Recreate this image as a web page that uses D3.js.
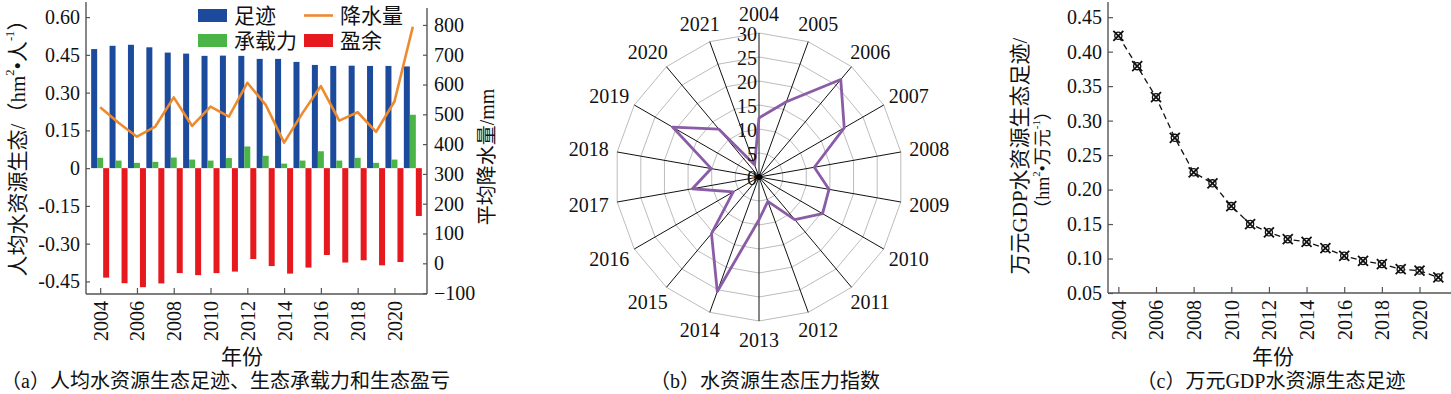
<!DOCTYPE html>
<html><head><meta charset="utf-8">
<script src="https://cdn.jsdelivr.net/npm/d3@7/dist/d3.min.js"></script>
<style>
html,body{margin:0;padding:0;background:#fff;}
svg{display:block;}
text{font-family:"Liberation Serif","Times New Roman","Noto Sans CJK SC",serif;fill:#111;}
</style></head>
<body>
<svg id="chart" width="1451" height="394"></svg>
<script>
// ---------- data ----------
const years = [2004,2005,2006,2007,2008,2009,2010,2011,2012,2013,2014,2015,2016,2017,2018,2019,2020,2021];
const footprint = [0.473,0.486,0.490,0.480,0.459,0.455,0.446,0.447,0.446,0.434,0.434,0.422,0.410,0.406,0.407,0.406,0.406,0.404];
const capacity  = [0.041,0.030,0.021,0.025,0.042,0.034,0.030,0.040,0.086,0.049,0.018,0.030,0.067,0.030,0.041,0.021,0.034,0.212];
const surplus   = [-0.435,-0.457,-0.473,-0.458,-0.417,-0.425,-0.417,-0.411,-0.361,-0.389,-0.419,-0.395,-0.345,-0.375,-0.366,-0.386,-0.373,-0.190];
const precipitation = [524,472,425,459,557,461,526,492,606,532,405,504,595,479,507,441,543,794];
const pressureIndex = [12.3,16.7,26.5,20.5,11.7,14.8,15.3,11.6,5.4,8.9,25.4,15.4,6.2,14.1,10.1,20.8,13.0,2.7];
const gdpFootprint = [0.423,0.379,0.334,0.275,0.225,0.209,0.176,0.150,0.138,0.128,0.124,0.115,0.104,0.0965,0.092,0.0845,0.0825,0.0725];

const leftTicks = [-0.45,-0.30,-0.15,0,0.15,0.30,0.45,0.60];
const leftTickLabels = ["-0.45","-0.30","-0.15","0","0.15","0.30","0.45","0.60"];
const rightTicks = [-100,0,100,200,300,400,500,600,700,800];
const yearTicks = [2004,2006,2008,2010,2012,2014,2016,2018,2020];
const radialTicks = [0,5,10,15,20,25,30];
const gdpTicks = [0.05,0.10,0.15,0.20,0.25,0.30,0.35,0.40,0.45];

const legendItems = [
  {label:"足迹", type:"rect", color:"#1c4a9c"},
  {label:"降水量", type:"line", color:"#ee8a2e"},
  {label:"承载力", type:"rect", color:"#4bb447"},
  {label:"盈余", type:"rect", color:"#e6191e"}
];

const C = {blue:"#1c4a9c", green:"#4bb447", red:"#e6191e", orange:"#ee8a2e", purple:"#8b5ca6", axis:"#555"};
const FS = 20;

const svg = d3.select("#chart");

function rich(sel, parts, size){
  let back = 0;
  parts.forEach(p=>{
    if (typeof p === "string") {
      const t = sel.append("tspan").text(p);
      if (back) { t.attr("dy", back); back = 0; }
    } else {
      sel.append("tspan").attr("dy", -size*0.38).attr("font-size", size*0.6).text(p.sup);
      back = size*0.38;
    }
  });
}

// ---------- Panel (a) ----------
{
  const L=86, R=427, T=2, B=294;
  const x = d3.scalePoint().domain(years).range([L,R]).padding(0.77);
  const yL = d3.scaleLinear().domain([-0.5,0.66]).range([B,T]);
  const yR = d3.scaleLinear().domain([-103,877]).range([B,T]);
  const g = svg.append("g");
  const bw = 6;

  g.selectAll(".fp").data(years).join("rect")
    .attr("x", d=>x(d)-9).attr("width", bw)
    .attr("y", (d,i)=>yL(footprint[i])).attr("height",(d,i)=>yL(0)-yL(footprint[i]))
    .attr("fill", C.blue);
  g.selectAll(".cap").data(years).join("rect")
    .attr("x", d=>x(d)-3).attr("width", bw)
    .attr("y", (d,i)=>yL(capacity[i])).attr("height",(d,i)=>yL(0)-yL(capacity[i]))
    .attr("fill", C.green);
  g.selectAll(".sur").data(years).join("rect")
    .attr("x", d=>x(d)+3).attr("width", bw)
    .attr("y", yL(0)).attr("height",(d,i)=>yL(surplus[i])-yL(0))
    .attr("fill", C.red);

  g.append("path").datum(years)
    .attr("d", d3.line().x(d=>x(d)).y((d,i)=>yR(precipitation[i])))
    .attr("fill","none").attr("stroke",C.orange).attr("stroke-width",2.6).attr("stroke-linejoin","round");

  // axes
  const axL = d3.axisLeft(yL).tickValues(leftTicks).tickSize(-4).tickPadding(6)
      .tickFormat((d,i)=>leftTickLabels[i]);
  const gL = g.append("g").attr("transform",`translate(${L},0)`).call(axL);
  const axR = d3.axisRight(yR).tickValues(rightTicks).tickSize(-4).tickPadding(7);
  const gR = g.append("g").attr("transform",`translate(${R},0)`).call(axR);
  const axB = d3.axisBottom(x).tickValues(yearTicks).tickSize(-6).tickFormat(d=>d);
  const gB = g.append("g").attr("transform",`translate(0,${B})`).call(axB);
  gB.selectAll("text").attr("transform","rotate(-90)").attr("text-anchor","end")
    .attr("dy","0.35em").attr("x",-7).attr("y",0);
  [gL,gR,gB].forEach(a=>{
    a.select(".domain").attr("stroke",C.axis).attr("stroke-width",1.4);
    a.selectAll(".tick line").attr("stroke",C.axis).attr("stroke-width",1.2);
    a.selectAll("text").attr("font-size",FS).attr("fill","#111").attr("font-family",null);
  });
  gL.select(".domain").attr("d",`M0,${T}V${B}`);
  gR.select(".domain").attr("d",`M0,${T+6}V${B}`);
  gB.select(".domain").attr("d",`M${L},0H${R}`);

  // legend
  const lg = g.append("g");
  const pos = [[198,9],[304,9],[198,34],[304,34]];
  legendItems.forEach((it,i)=>{
    const [px,py]=pos[i];
    if (it.type==="rect") lg.append("rect").attr("x",px).attr("y",py).attr("width",29).attr("height",13).attr("fill",it.color);
    else lg.append("line").attr("x1",px).attr("x2",px+29).attr("y1",py+6.5).attr("y2",py+6.5).attr("stroke",it.color).attr("stroke-width",2.6);
    lg.append("text").attr("x",px+36).attr("y",py+7).attr("dominant-baseline","central")
      .attr("font-size",21).text(it.label);
  });

  // axis titles
  const t1 = g.append("text").attr("transform","translate(18,143) rotate(-90)")
    .attr("text-anchor","middle").attr("dominant-baseline","central").attr("font-size",21);
  rich(t1, ["人均水资源生态/（hm",{sup:"2"},"•人",{sup:"-1"},"）"], 21);
  g.append("text").attr("transform","translate(487,157) rotate(-90)")
    .attr("text-anchor","middle").attr("dominant-baseline","central").attr("font-size",20).text("平均降水量/mm");
  g.append("text").attr("x",242).attr("y",357).attr("text-anchor","middle").attr("dominant-baseline","central")
    .attr("font-size",21).text("年份");
  g.append("text").attr("x",1).attr("y",381).attr("dominant-baseline","central")
    .attr("font-size",20).text("（a）人均水资源生态足迹、生态承载力和生态盈亏");
}

// ---------- Panel (b) radar ----------
{
  const cx=759, cy=177, Rmax=144;
  const r = d3.scaleLinear().domain([0,30]).range([0,Rmax]);
  const step = 2*Math.PI/years.length;
  const a = (i)=> i*step;
  const g = svg.append("g").attr("transform",`translate(${cx},${cy})`);
  radialTicks.slice(1).forEach(v=>{
    const pts = years.map((d,i)=>[Math.sin(a(i))*r(v), -Math.cos(a(i))*r(v)]);
    g.append("path").attr("d", d3.line().curve(d3.curveLinearClosed)(pts))
      .attr("fill","none").attr("stroke","#b4b4b4").attr("stroke-width",0.9);
  });
  years.forEach((d,i)=>{
    g.append("line").attr("x1",0).attr("y1",0)
      .attr("x2",Math.sin(a(i))*Rmax).attr("y2",-Math.cos(a(i))*Rmax)
      .attr("stroke","#111").attr("stroke-width",1);
  });
  g.append("path").datum(pressureIndex)
    .attr("d", d3.lineRadial().angle((d,i)=>a(i)).radius(d=>r(d)).curve(d3.curveLinearClosed))
    .attr("fill","none").attr("stroke",C.purple).attr("stroke-width",2.8).attr("stroke-linejoin","round");
  g.append("circle").attr("r",3).attr("fill","#000");
  radialTicks.forEach(v=>{
    g.append("text").attr("x",-2).attr("y",-r(v)+1).attr("text-anchor","end").attr("dominant-baseline","central")
      .attr("font-size",FS).text(v);
  });
  years.forEach((d,i)=>{
    const s=Math.sin(a(i)), c=Math.cos(a(i)), rr=Rmax+9;
    g.append("text").attr("x", s*rr + 20*s).attr("y", -c*rr - 10*c)
      .attr("text-anchor","middle").attr("dominant-baseline","central").attr("font-size",FS).text(d);
  });
  svg.append("text").attr("x",765).attr("y",381).attr("text-anchor","middle").attr("dominant-baseline","central")
    .attr("font-size",20).text("（b）水资源生态压力指数");
}

// ---------- Panel (c) ----------
{
  const L=1108, R=1450, T=2, B=293;
  const x = d3.scaleLinear().domain([2003.45,2021.62]).range([L,R]);
  const y = d3.scaleLinear().domain([0.05,0.472]).range([B,T]);
  const g = svg.append("g");
  g.append("path").datum(years)
    .attr("d", d3.line().x(d=>x(d)).y((d,i)=>y(gdpFootprint[i])))
    .attr("fill","none").attr("stroke","#111").attr("stroke-width",1.3).attr("stroke-dasharray","6,4");
  const mk = g.selectAll(".mk").data(years).join("g")
    .attr("transform",(d,i)=>`translate(${x(d)},${y(gdpFootprint[i])})`);
  mk.append("circle").attr("r",3.6).attr("fill","#fff").attr("stroke","#111").attr("stroke-width",1.3);
  mk.append("path").attr("d","M-5,-5L5,5M-5,5L5,-5").attr("stroke","#111").attr("stroke-width",1.8);

  const axL = d3.axisLeft(y).tickValues(gdpTicks).tickSize(-5).tickPadding(6).tickFormat(d3.format(".2f"));
  const gL = g.append("g").attr("transform",`translate(${L},0)`).call(axL);
  const axB = d3.axisBottom(x).tickValues(yearTicks).tickSize(-6).tickFormat(d=>d);
  const gB = g.append("g").attr("transform",`translate(0,${B})`).call(axB);
  gB.selectAll("text").attr("transform","rotate(-90)").attr("text-anchor","end")
    .attr("dy","0.35em").attr("x",-7).attr("y",0);
  [gL,gB].forEach(a=>{
    a.select(".domain").attr("stroke",C.axis).attr("stroke-width",1.4);
    a.selectAll(".tick line").attr("stroke",C.axis).attr("stroke-width",1.2);
    a.selectAll("text").attr("font-size",FS).attr("fill","#111").attr("font-family",null);
  });
  gL.select(".domain").attr("d",`M0,${T}V${B}`);
  gB.select(".domain").attr("d",`M${L},0H1451`);

  g.append("text").attr("transform","translate(1020,156) rotate(-90)")
    .attr("text-anchor","middle").attr("dominant-baseline","central").attr("font-size",21).text("万元GDP水资源生态足迹/");
  const t2 = g.append("text").attr("transform","translate(1043,160) rotate(-90)")
    .attr("text-anchor","middle").attr("dominant-baseline","central").attr("font-size",18);
  rich(t2, ["（hm",{sup:"2"},"•万元",{sup:"-1"},"）"], 18);
  g.append("text").attr("x",1273).attr("y",357).attr("text-anchor","middle").attr("dominant-baseline","central")
    .attr("font-size",21).text("年份");
  g.append("text").attr("x",1271).attr("y",381).attr("text-anchor","middle").attr("dominant-baseline","central")
    .attr("font-size",20).text("（c）万元GDP水资源生态足迹");
}
</script>
</body></html>
